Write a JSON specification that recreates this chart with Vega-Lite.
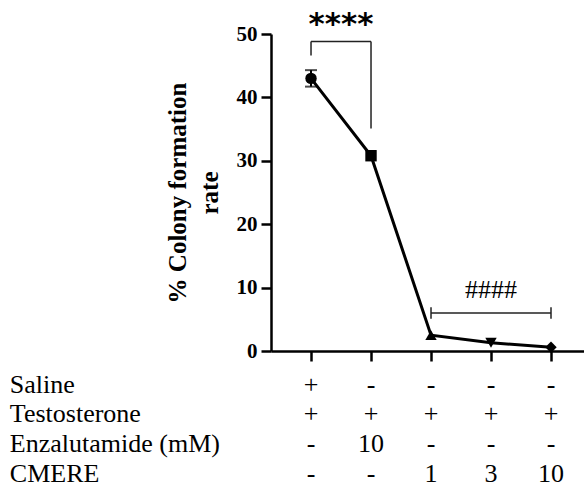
{
  "$schema": "https://vega.github.io/schema/vega-lite/v6.json",
  "width": 313,
  "height": 317,
  "autosize": {"type": "none"},
  "padding": {"left": 271, "top": 34, "right": 0, "bottom": 137},
  "background": "white",
  "config": {"view": {"stroke": null}},
  "datasets": {
    "main": [
      {"group": "Saline", "x": 1, "rate": 43.0},
      {"group": "Enzalutamide 10", "x": 2, "rate": 30.8},
      {"group": "CMERE 1", "x": 3, "rate": 2.5},
      {"group": "CMERE 3", "x": 4, "rate": 1.3},
      {"group": "CMERE 10", "x": 5, "rate": 0.6}
    ],
    "err": [{"x": 1, "lo": 41.7, "hi": 44.3}],
    "brackets": [
      {"x": 1, "x2": 2, "y": 48.8, "y2": 48.8},
      {"x": 1, "x2": 1, "y": 48.8, "y2": 46.6},
      {"x": 2, "x2": 2, "y": 48.8, "y2": 35.1},
      {"x": 3, "x2": 5, "y": 6.0, "y2": 6.0},
      {"x": 3, "x2": 3, "y": 6.9, "y2": 5.1},
      {"x": 5, "x2": 5, "y": 6.9, "y2": 5.1}
    ],
    "rows": [
      {"factor": "Saline"},
      {"factor": "Testosterone"},
      {"factor": "Enzalutamide (mM)"},
      {"factor": "CMERE"}
    ],
    "cells": [
      {"factor": "Saline", "x": 1, "val": "+"},
      {"factor": "Saline", "x": 2, "val": "-"},
      {"factor": "Saline", "x": 3, "val": "-"},
      {"factor": "Saline", "x": 4, "val": "-"},
      {"factor": "Saline", "x": 5, "val": "-"},
      {"factor": "Testosterone", "x": 1, "val": "+"},
      {"factor": "Testosterone", "x": 2, "val": "+"},
      {"factor": "Testosterone", "x": 3, "val": "+"},
      {"factor": "Testosterone", "x": 4, "val": "+"},
      {"factor": "Testosterone", "x": 5, "val": "+"},
      {"factor": "Enzalutamide (mM)", "x": 1, "val": "-"},
      {"factor": "Enzalutamide (mM)", "x": 2, "val": "10"},
      {"factor": "Enzalutamide (mM)", "x": 3, "val": "-"},
      {"factor": "Enzalutamide (mM)", "x": 4, "val": "-"},
      {"factor": "Enzalutamide (mM)", "x": 5, "val": "-"},
      {"factor": "CMERE", "x": 1, "val": "-"},
      {"factor": "CMERE", "x": 2, "val": "-"},
      {"factor": "CMERE", "x": 3, "val": "1"},
      {"factor": "CMERE", "x": 4, "val": "3"},
      {"factor": "CMERE", "x": 5, "val": "10"}
    ]
  },
  "layer": [
    {
      "layer": [
        {
          "data": {"name": "main"},
          "mark": {"type": "line", "color": "black", "strokeWidth": 3},
          "encoding": {
            "x": {
              "field": "x", "type": "quantitative",
              "scale": {"domain": [0.333, 5.55], "nice": false, "zero": false},
              "axis": {
                "values": [1, 2, 3, 4, 5], "labels": false, "title": null, "grid": false,
                "tickSize": 10, "tickWidth": 2.5, "tickColor": "black",
                "domainWidth": 2.5, "domainColor": "black"
              }
            },
            "y": {
              "field": "rate", "type": "quantitative",
              "scale": {"domain": [0, 50], "nice": false},
              "axis": {
                "values": [0, 10, 20, 30, 40, 50], "grid": false,
                "tickSize": 10, "tickWidth": 2.5, "tickColor": "black",
                "domainWidth": 2.5, "domainColor": "black",
                "labelFont": "Liberation Serif", "labelFontWeight": "bold", "labelFontSize": 21,
                "labelColor": "black", "labelPadding": 4,
                "title": ["% Colony formation", "rate"],
                "titleFont": "Liberation Serif", "titleFontWeight": "bold", "titleFontSize": 25,
                "titleColor": "black", "titlePadding": 14, "titleLineHeight": 32
              }
            }
          }
        },
        {
          "data": {"name": "main"},
          "mark": {"type": "point", "filled": true, "color": "black", "opacity": 1, "size": 130},
          "encoding": {
            "x": {"field": "x", "type": "quantitative"},
            "y": {"field": "rate", "type": "quantitative"},
            "shape": {
              "field": "group", "type": "nominal", "legend": null,
              "scale": {
                "domain": ["Saline", "Enzalutamide 10", "CMERE 1", "CMERE 3", "CMERE 10"],
                "range": ["circle", "square", "triangle-up", "triangle-down", "diamond"]
              }
            }
          }
        },
        {
          "data": {"name": "err"},
          "mark": {"type": "rule", "color": "black", "strokeWidth": 2},
          "encoding": {
            "x": {"field": "x", "type": "quantitative"},
            "y": {"field": "lo", "type": "quantitative"},
            "y2": {"field": "hi"}
          }
        },
        {
          "data": {"name": "err"},
          "mark": {"type": "tick", "orient": "horizontal", "color": "black", "size": 12, "thickness": 2},
          "encoding": {
            "x": {"field": "x", "type": "quantitative"},
            "y": {"field": "lo", "type": "quantitative"}
          }
        },
        {
          "data": {"name": "err"},
          "mark": {"type": "tick", "orient": "horizontal", "color": "black", "size": 12, "thickness": 2},
          "encoding": {
            "x": {"field": "x", "type": "quantitative"},
            "y": {"field": "hi", "type": "quantitative"}
          }
        },
        {
          "data": {"name": "brackets"},
          "mark": {"type": "rule", "color": "#222222", "strokeWidth": 1.5},
          "encoding": {
            "x": {"field": "x", "type": "quantitative"},
            "x2": {"field": "x2"},
            "y": {"field": "y", "type": "quantitative"},
            "y2": {"field": "y2"}
          }
        },
        {
          "data": {"values": [{"x": 1.5, "y": 51.4, "label": "****"}]},
          "mark": {"type": "text", "font": "DejaVu Sans", "fontWeight": "bold", "fontSize": 31, "baseline": "middle", "align": "center", "color": "black"},
          "encoding": {
            "x": {"field": "x", "type": "quantitative"},
            "y": {"field": "y", "type": "quantitative"},
            "text": {"field": "label"}
          }
        },
        {
          "data": {"values": [{"x": 4, "y": 9.7, "label": "####"}]},
          "mark": {"type": "text", "font": "Liberation Serif", "fontSize": 26, "baseline": "middle", "align": "center", "color": "black"},
          "encoding": {
            "x": {"field": "x", "type": "quantitative"},
            "y": {"field": "y", "type": "quantitative"},
            "text": {"field": "label"}
          }
        }
      ]
    },
    {
      "layer": [
        {
          "data": {"name": "rows"},
          "mark": {"type": "text", "font": "Liberation Serif", "fontSize": 26, "align": "left", "baseline": "alphabetic", "color": "black"},
          "encoding": {
            "x": {"datum": -4.02, "type": "quantitative"},
            "y": {
              "field": "factor", "type": "nominal", "axis": null,
              "scale": {"type": "point", "domain": ["Saline", "Testosterone", "Enzalutamide (mM)", "CMERE"], "range": [358.5, 447.5], "padding": 0}
            },
            "text": {"field": "factor"}
          }
        },
        {
          "data": {"name": "cells"},
          "mark": {"type": "text", "font": "Liberation Serif", "fontSize": 26, "align": "center", "baseline": "alphabetic", "color": "black"},
          "encoding": {
            "x": {"field": "x", "type": "quantitative"},
            "y": {"field": "factor", "type": "nominal", "axis": null},
            "text": {"field": "val"}
          }
        }
      ]
    }
  ],
  "resolve": {"scale": {"y": "independent"}, "axis": {"y": "independent"}}
}
